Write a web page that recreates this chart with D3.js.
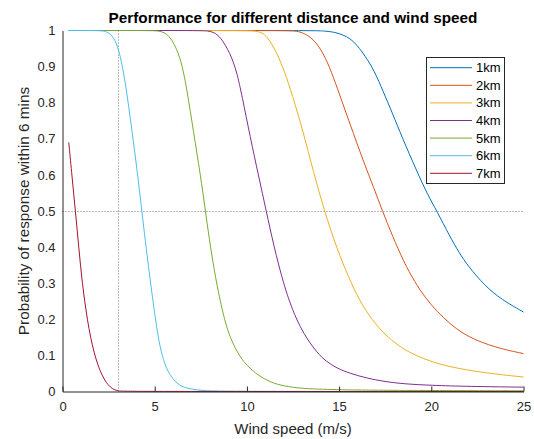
<!DOCTYPE html>
<html>
<head>
<meta charset="utf-8">
<script src="https://cdn.jsdelivr.net/npm/d3@7"></script>
<style>
  body { margin: 0; background: #fff; }
  svg { font-family: "Liberation Sans", Arial, sans-serif; }
</style>
</head>
<body>
<script>
// Values: [wind speed (m/s), probability]
const series1km = [[0.3,1],[13.5,1],[14.2,0.999],[14.8,0.995],[15.2,0.988],[15.6,0.978],[16.0,0.958],
  [16.4,0.93],[16.9,0.89],[17.4,0.83],[17.9,0.77],[18.4,0.706],[19.2,0.612],[19.8,0.545],[20.3,0.5],
  [21.0,0.43],[21.5,0.385],[22.0,0.347],[22.9,0.293],[23.8,0.255],[25,0.22]];
const series2km = [[0.3,1],[12.0,1],[12.6,0.999],[13.0,0.995],[13.6,0.978],[14.15,0.937],[14.6,0.884],
  [15.0,0.826],[15.6,0.74],[16.3,0.64],[16.9,0.562],[17.35,0.5],[17.9,0.43],[18.5,0.36],[19.1,0.303],
  [19.7,0.258],[20.3,0.222],[21.0,0.188],[21.7,0.161],[22.5,0.14],[23.7,0.119],[25,0.105]];
const series3km = [[0.3,1],[9.8,1],[10.4,0.999],[10.8,0.995],[11.1,0.983],[11.6,0.942],[12.05,0.885],
  [12.45,0.824],[13.05,0.72],[13.6,0.61],[14.2,0.5],[14.9,0.393],[15.5,0.318],[16.1,0.252],[16.8,0.197],
  [17.5,0.157],[18.2,0.127],[18.9,0.106],[19.9,0.084],[21.0,0.068],[22.8,0.052],[25,0.04]];
const series4km = [[0.3,1],[7.4,1],[7.9,0.999],[8.2,0.995],[8.56,0.983],[9.1,0.937],[9.46,0.884],
  [9.73,0.82],[10.18,0.705],[10.63,0.598],[11.05,0.5],[11.45,0.405],[12.0,0.295],[12.5,0.222],
  [12.9,0.178],[13.3,0.143],[13.8,0.108],[14.3,0.083],[14.9,0.064],[15.6,0.05],[16.5,0.037],
  [17.4,0.028],[18.5,0.021],[20.0,0.017],[22.0,0.014],[25,0.012]];
const series5km = [[0.3,1],[4.8,1],[5.2,0.999],[5.5,0.995],[5.85,0.983],[6.39,0.93],[6.75,0.837],
  [7.1,0.72],[7.48,0.6],[7.75,0.5],[8.02,0.4],[8.4,0.285],[8.8,0.195],[9.1,0.148],[9.5,0.107],
  [9.82,0.083],[10.2,0.062],[10.7,0.042],[11.3,0.025],[12.0,0.015],[13.0,0.008],[14.7,0.005],
  [17.5,0.003],[25,0.002]];
const series6km = [[0.3,1],[2.0,1],[2.35,0.998],[2.7,0.988],[3.05,0.952],[3.41,0.86],[3.77,0.72],
  [4.05,0.612],[4.3,0.5],[4.59,0.375],[4.88,0.26],[5.13,0.168],[5.35,0.108],[5.6,0.068],[5.85,0.044],
  [6.2,0.022],[6.6,0.01],[7.5,0.002],[9,0],[25,0]];
const series7km = [[0.34,0.69],[0.52,0.594],[0.7,0.5],[0.88,0.4],[1.07,0.3],[1.34,0.197],[1.7,0.104],
  [2.15,0.04],[2.6,0.009],[3.0,0.001],[3.5,0],[25,0]];

const seriesNames = ["1km", "2km", "3km", "4km", "5km", "6km", "7km"];
const seriesData = [series1km, series2km, series3km, series4km, series5km, series6km, series7km];
const seriesColors = ["#0072BD", "#D95319", "#EDB120", "#7E2F8E", "#77AC30", "#4DBEEE", "#A2142F"];

const xTicks = [0, 5, 10, 15, 20, 25];
const yTicks = [0, 0.1, 0.2, 0.3, 0.4, 0.5, 0.6, 0.7, 0.8, 0.9, 1];

// reference lines (dotted)
const refSpeed = 3;
const refProb = 0.5;

const width = 534, height = 439;
const axisColor = "#262626";

let svg = d3.select("body").append("svg")
    .attr("width", width)
    .attr("height", height);

let xScale = d3.scaleLinear().domain([0, 25]).range([62.5, 523.5]);
let yScale = d3.scaleLinear().domain([0, 1]).range([391.5, 30.5]);

// dotted reference lines
svg.append("line")
    .attr("x1", xScale(0)).attr("x2", xScale(25))
    .attr("y1", Math.round(yScale(refProb)) + 0.5).attr("y2", Math.round(yScale(refProb)) + 0.5)
    .attr("stroke", "#777").attr("stroke-dasharray", "1,2");
svg.append("line")
    .attr("x1", Math.round(xScale(refSpeed)) + 0.5).attr("x2", Math.round(xScale(refSpeed)) + 0.5)
    .attr("y1", yScale(0)).attr("y2", yScale(1))
    .attr("stroke", "#777").attr("stroke-dasharray", "1,2");

// curves - basis keeps them smooth and never above 1
let line = d3.line()
    .x(d => xScale(d[0]))
    .y(d => yScale(d[1]))
    .curve(d3.curveBasis);

seriesData.forEach((data, i) => {
    svg.append("path")
        .datum(data)
        .attr("fill", "none")
        .attr("stroke", seriesColors[i])
        .attr("stroke-width", 1)
        .attr("d", line);
});

// axes (box off, only left and bottom)
let xAxis = d3.axisBottom(xScale)
    .tickValues(xTicks)
    .tickSizeInner(-5)
    .tickSizeOuter(0)
    .tickPadding(10);

let gx = svg.append("g")
    .attr("transform", "translate(0,391.5)")
    .call(xAxis);
gx.select(".domain").attr("stroke", axisColor);
gx.selectAll(".tick line").attr("stroke", axisColor);
gx.selectAll(".tick text")
    .attr("fill", axisColor)
    .attr("font-size", 13)
    .attr("font-family", "Liberation Sans, Arial, sans-serif");

let yAxis = d3.axisLeft(yScale)
    .tickValues(yTicks)
    .tickSize(0)
    .tickPadding(7)
    .tickFormat(d => String(d));

let gy = svg.append("g")
    .attr("transform", "translate(62.5,0)")
    .call(yAxis);
gy.select(".domain").attr("stroke", axisColor);
gy.selectAll(".tick text")
    .attr("fill", axisColor)
    .attr("font-size", 13)
    .attr("font-family", "Liberation Sans, Arial, sans-serif");

// title and labels
svg.append("text")
    .attr("x", 293).attr("y", 22.5)
    .attr("text-anchor", "middle")
    .attr("font-size", 15.3)
    .attr("font-weight", "bold")
    .attr("fill", "#000")
    .text("Performance for different distance and wind speed");

svg.append("text")
    .attr("x", 293).attr("y", 434)
    .attr("text-anchor", "middle")
    .attr("font-size", 15)
    .attr("fill", axisColor)
    .text("Wind speed (m/s)");

svg.append("text")
    .attr("transform", "translate(29,211) rotate(-90)")
    .attr("text-anchor", "middle")
    .attr("font-size", 15.3)
    .attr("fill", axisColor)
    .text("Probability of response within 6 mins");

// legend
let legend = svg.append("g");
legend.append("rect")
    .attr("x", 426.5).attr("y", 57.5)
    .attr("width", 78).attr("height", 126)
    .attr("fill", "#fff")
    .attr("stroke", axisColor);

seriesNames.forEach((name, i) => {
    let y = 67.7 + i * 17.6;
    legend.append("line")
        .attr("x1", 430).attr("x2", 472)
        .attr("y1", y).attr("y2", y)
        .attr("stroke", seriesColors[i]);
    legend.append("text")
        .attr("x", 476).attr("y", y + 4.5)
        .attr("font-size", 13)
        .attr("fill", "#000")
        .text(name);
});
</script>
</body>
</html>
